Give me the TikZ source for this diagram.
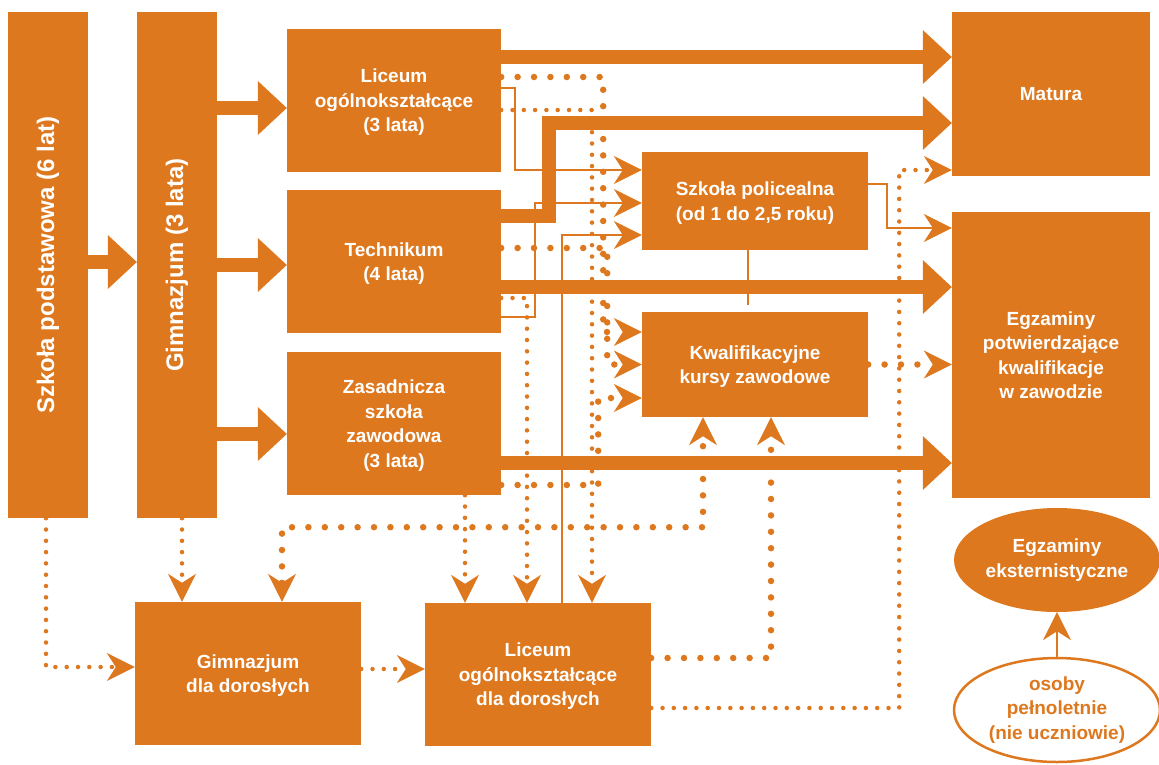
\documentclass[tikz,border=0pt]{standalone}
\usepackage{fontspec}
\setmainfont{Liberation Sans}
\usepackage{graphicx}
\usetikzlibrary{arrows.meta,shapes.geometric}
\definecolor{pomar}{RGB}{222,120,30}
\begin{document}
\begin{tikzpicture}[x=1pt,y=-1pt,
  >={Stealth[length=28pt,width=28pt,inset=9pt,line width=0pt]},
  owal/.style={ellipse,fill=pomar,text=white,inner sep=0pt,align=center,font=\fontsize{19}{24.5}\selectfont\bfseries},
  box/.style={fill=pomar,text=white,inner sep=0pt,align=center,text depth=-13pt,font=\fontsize{19}{24.5}\selectfont\bfseries},
  fat/.style={draw=pomar,line width=14.5pt,line join=miter,-{Triangle[length=29pt,width=54pt,line width=0pt]}},
  cienka/.style={draw=pomar,line width=2pt},
  kropki/.style={draw=pomar,line width=4.5pt,line cap=round,dash pattern=on 0pt off 11.3pt},
  kropy/.style={draw=pomar,line width=6.5pt,line cap=round,dash pattern=on 0pt off 16.4pt}]
\useasboundingbox (0,0) rectangle (1159,764);
\node[box,text depth=0pt,minimum width=80pt,minimum height=506pt] (szp) at (48,265) {\rotatebox{90}{\fontsize{24}{28}\selectfont Szkoła podstawowa (6 lat)}};
\node[box,text depth=0pt,minimum width=80pt,minimum height=506pt] (gim) at (177,265) {\rotatebox{90}{\fontsize{24}{28}\selectfont Gimnazjum (3 lata)}};
\node[box,minimum width=214pt,minimum height=143pt] (lo) at (394,100.5) {Liceum\\ogólnokształcące\\(3 lata)};
\node[box,minimum width=214pt,minimum height=143pt] (tech) at (394,261.5) {Technikum\\(4 lata)};
\node[box,minimum width=214pt,minimum height=143pt] (zsz) at (394,423.5) {Zasadnicza\\szkoła\\zawodowa\\(3 lata)};
\node[box,minimum width=226pt,minimum height=98pt] (pol) at (755,201) {Szkoła policealna\\(od 1 do 2,5 roku)};
\node[box,minimum width=226pt,minimum height=105pt] (kkz) at (755,364.5) {Kwalifikacyjne\\kursy zawodowe};
\node[box,minimum width=198pt,minimum height=164pt] (mat) at (1051,94) {Matura};
\node[box,minimum width=198pt,minimum height=286pt] (egz) at (1051,355) {Egzaminy\\potwierdzające\\kwalifikacje\\w zawodzie};
\node[owal,minimum width=206pt,minimum height=104pt] (eks) at (1057,560) {Egzaminy\\eksternistyczne};
\node[owal,fill=white,draw=pomar,line width=2.5pt,text=pomar,minimum width=206pt,minimum height=104pt] (os) at (1057,710) {osoby\\pełnoletnie\\(nie uczniowie)};
\node[box,minimum width=226pt,minimum height=143pt] (gimd) at (248,673.5) {Gimnazjum\\dla dorosłych};
\node[box,minimum width=226pt,minimum height=143pt] (lod) at (538,674.5) {Liceum\\ogólnokształcące\\dla dorosłych};
\draw[kropki,->] ([xshift=-2pt]szp.south) |- ([yshift=6.5pt]gimd.west);
\draw[kropki,->] ([xshift=5pt]gim.south) -- ([xshift=-66pt]gimd.north);
\draw[kropki,->] ([yshift=4.5pt]gimd.east) -- ([yshift=5.5pt]lod.west);
\draw[kropki,->] ([xshift=71pt]zsz.south) -- ([xshift=-73pt]lod.north);
\draw[kropki,->] ([yshift=-36.5pt]tech.east) -| ([xshift=-11pt]lod.north);
\draw[kropki,->] ([yshift=-9.5pt]lo.east) -| ([xshift=54pt]lod.north);
\draw[kropki,->] ([yshift=-33.5pt]lod.east) -- ++(248,0) |- ([yshift=-76pt]mat.west);
\draw[kropy,->] ([yshift=23.5pt]lo.east) -- ++(102,0) |- ([yshift=32.5pt]kkz.west);
\draw[kropy,->] ([yshift=13.5pt]tech.east) -- ++(106,0) |- (kkz.west);
\draw[kropy,->] ([yshift=-61.5pt]zsz.east) -- ++(97,0) |- ([yshift=-33.5pt]kkz.west);
\draw[kropy,->] (kkz.east) -- (kkz.east -| egz.west);
\draw[kropy,->] ([yshift=16.5pt]lod.east) -| ([xshift=16pt]kkz.south);
\draw[kropy,<->] ([xshift=34pt]gimd.north) |- ([xshift=-52pt,yshift=-110pt]kkz.south) -- ([xshift=-52pt]kkz.south);
\draw[cienka,->] ([yshift=12.5pt]lo.east) -- ++(14,0) |- ([yshift=31pt]pol.west);
\draw[cienka,->] ([yshift=-55.5pt]tech.east) -- ++(34,0) |- ([yshift=-2pt]pol.west);
\draw[cienka,->] ([xshift=24pt]lod.north) |- ([yshift=-34pt]pol.west);
\draw[cienka,->] ([yshift=17pt]pol.east) -- ++(19,0) |- ([yshift=127pt]egz.west);
\draw[cienka] ([xshift=-7pt]pol.south) -- ++(0,55);
\draw[cienka,->] (os.north) -- (eks.south);
\draw[fat] ([yshift=3pt]szp.east) -- ([yshift=3pt]gim.west);
\draw[fat] ([yshift=157pt]gim.east) -- ([yshift=-7.5pt]lo.west);
\draw[fat] (gim.east) -- ([yshift=-3.5pt]tech.west);
\draw[fat] ([yshift=-169pt]gim.east) -- ([yshift=-10.5pt]zsz.west);
\draw[fat] ([yshift=43.5pt]lo.east) -- ([yshift=37pt]mat.west);
\draw[fat] ([yshift=45.5pt]tech.east) -- ++(48,0) |- ([yshift=-29pt]mat.west);
\draw[fat] ([yshift=-25.5pt]tech.east) -- ([yshift=68pt]egz.west);
\draw[fat] ([yshift=-39.5pt]zsz.east) -- ([yshift=-108pt]egz.west);
\end{tikzpicture}
\end{document}
